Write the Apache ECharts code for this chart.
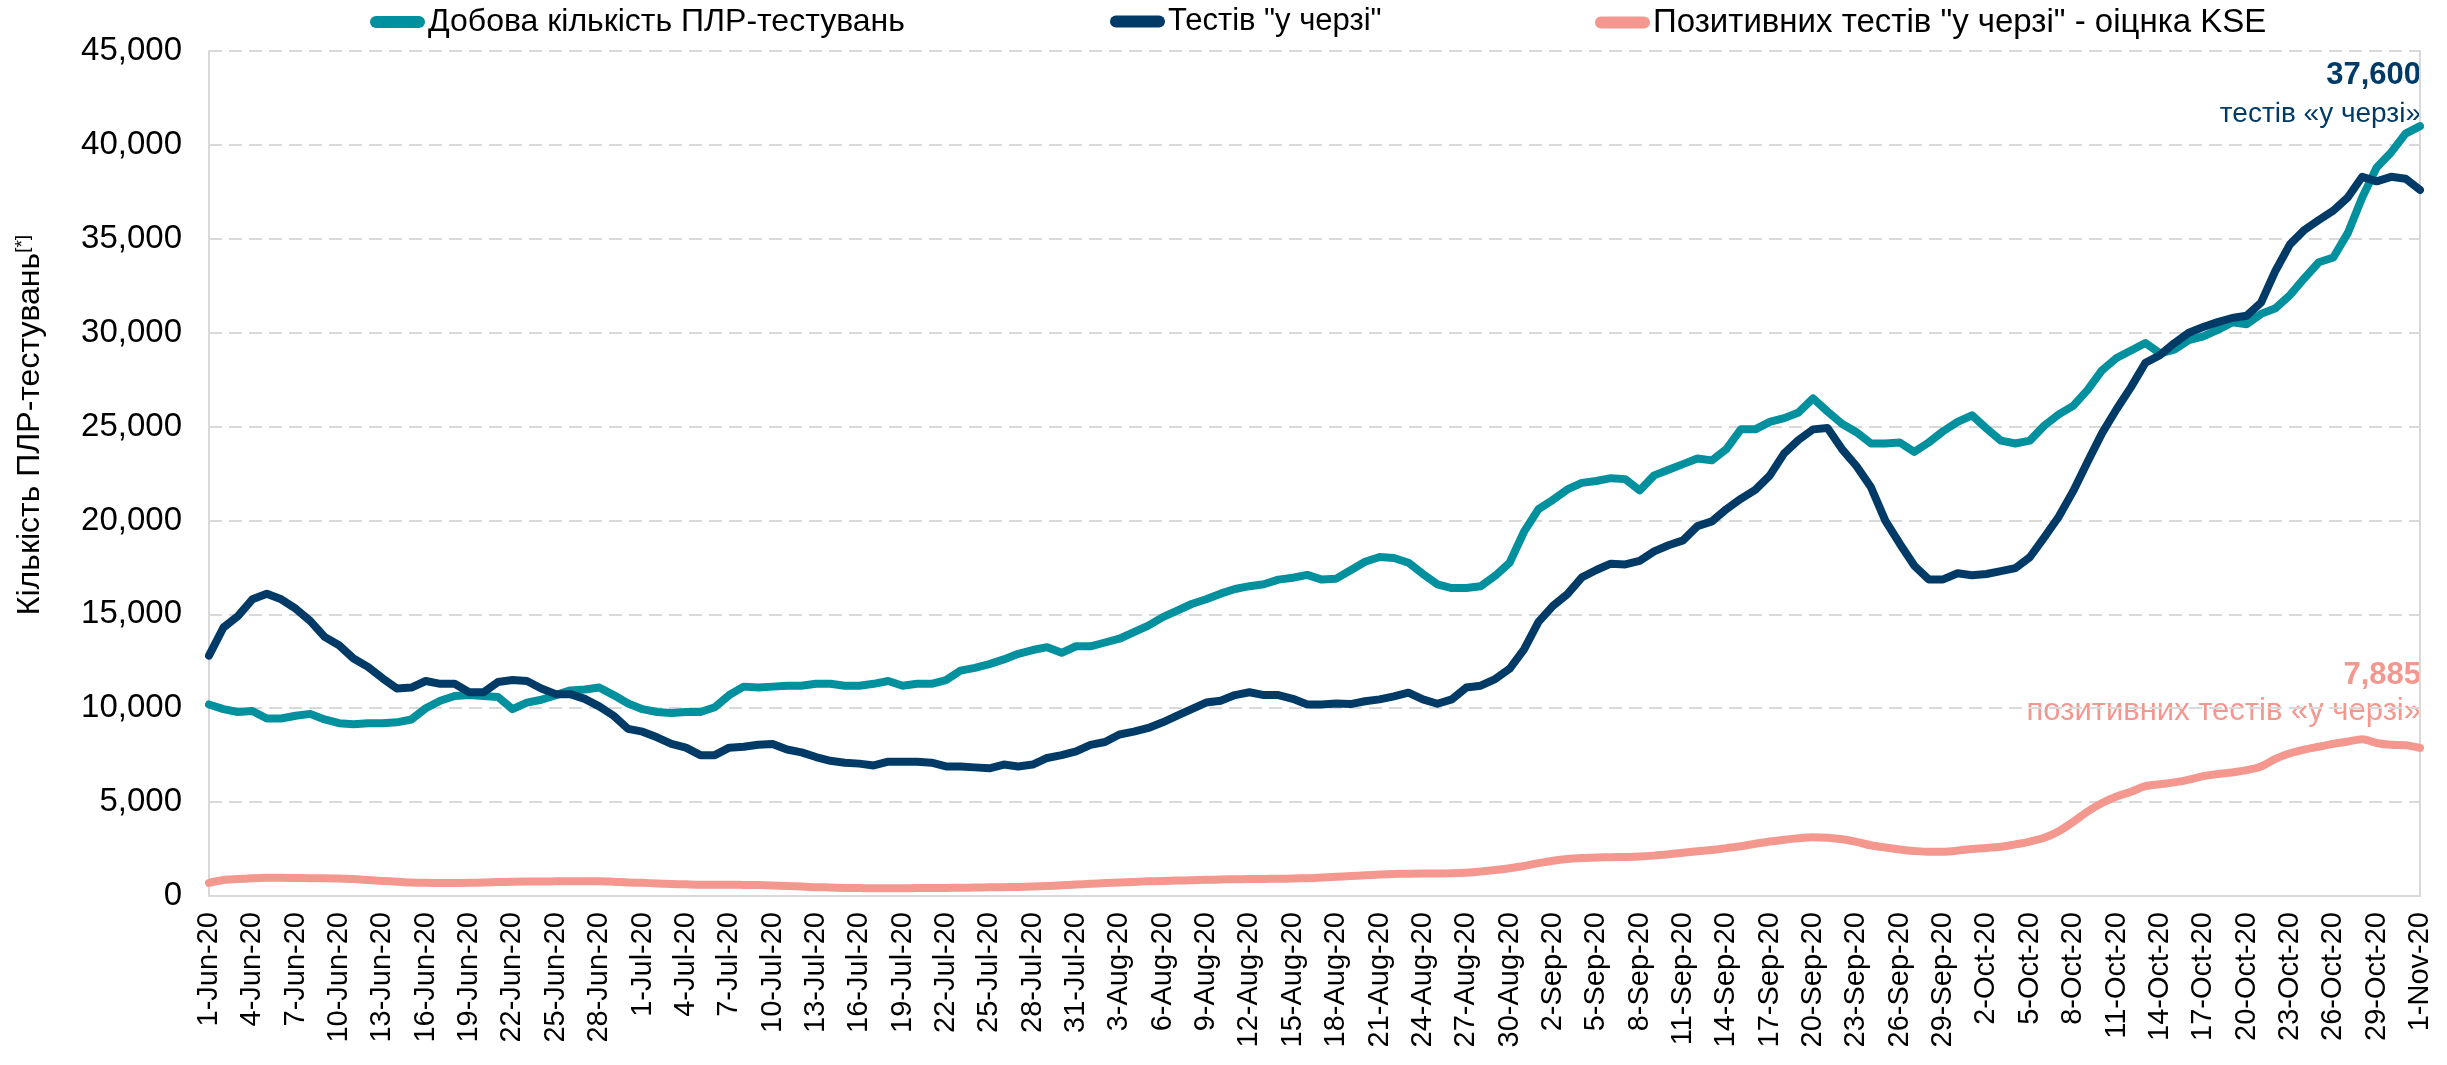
<!DOCTYPE html>
<html>
<head>
<meta charset="utf-8">
<script src="https://cdn.jsdelivr.net/npm/echarts@6/dist/echarts.min.js"></script>
<style>
html,body{margin:0;padding:0;background:#fff;}
#chart{width:2447px;height:1065px;}
</style>
</head>
<body>
<div id="chart"></div>
<script>
var dates = [
'1-Jun-20','2-Jun-20','3-Jun-20','4-Jun-20','5-Jun-20','6-Jun-20','7-Jun-20','8-Jun-20','9-Jun-20','10-Jun-20',
'11-Jun-20','12-Jun-20','13-Jun-20','14-Jun-20','15-Jun-20','16-Jun-20','17-Jun-20','18-Jun-20','19-Jun-20','20-Jun-20',
'21-Jun-20','22-Jun-20','23-Jun-20','24-Jun-20','25-Jun-20','26-Jun-20','27-Jun-20','28-Jun-20','29-Jun-20','30-Jun-20',
'1-Jul-20','2-Jul-20','3-Jul-20','4-Jul-20','5-Jul-20','6-Jul-20','7-Jul-20','8-Jul-20','9-Jul-20','10-Jul-20',
'11-Jul-20','12-Jul-20','13-Jul-20','14-Jul-20','15-Jul-20','16-Jul-20','17-Jul-20','18-Jul-20','19-Jul-20','20-Jul-20',
'21-Jul-20','22-Jul-20','23-Jul-20','24-Jul-20','25-Jul-20','26-Jul-20','27-Jul-20','28-Jul-20','29-Jul-20','30-Jul-20',
'31-Jul-20','1-Aug-20','2-Aug-20','3-Aug-20','4-Aug-20','5-Aug-20','6-Aug-20','7-Aug-20','8-Aug-20','9-Aug-20',
'10-Aug-20','11-Aug-20','12-Aug-20','13-Aug-20','14-Aug-20','15-Aug-20','16-Aug-20','17-Aug-20','18-Aug-20','19-Aug-20',
'20-Aug-20','21-Aug-20','22-Aug-20','23-Aug-20','24-Aug-20','25-Aug-20','26-Aug-20','27-Aug-20','28-Aug-20','29-Aug-20',
'30-Aug-20','31-Aug-20','1-Sep-20','2-Sep-20','3-Sep-20','4-Sep-20','5-Sep-20','6-Sep-20','7-Sep-20','8-Sep-20',
'9-Sep-20','10-Sep-20','11-Sep-20','12-Sep-20','13-Sep-20','14-Sep-20','15-Sep-20','16-Sep-20','17-Sep-20','18-Sep-20',
'19-Sep-20','20-Sep-20','21-Sep-20','22-Sep-20','23-Sep-20','24-Sep-20','25-Sep-20','26-Sep-20','27-Sep-20','28-Sep-20',
'29-Sep-20','30-Sep-20','1-Oct-20','2-Oct-20','3-Oct-20','4-Oct-20','5-Oct-20','6-Oct-20','7-Oct-20','8-Oct-20',
'9-Oct-20','10-Oct-20','11-Oct-20','12-Oct-20','13-Oct-20','14-Oct-20','15-Oct-20','16-Oct-20','17-Oct-20','18-Oct-20',
'19-Oct-20','20-Oct-20','21-Oct-20','22-Oct-20','23-Oct-20','24-Oct-20','25-Oct-20','26-Oct-20','27-Oct-20','28-Oct-20',
'29-Oct-20','30-Oct-20','31-Oct-20','1-Nov-20'
];

var dailyTests = [
10200,9950,9800,9850,9450,9450,9600,9700,9400,9200,
9150,9200,9200,9250,9400,10000,10400,10650,10700,10650,
10600,9950,10300,10450,10700,10950,11000,11100,10700,10250,
9950,9800,9750,9800,9800,10050,10700,11150,11100,11150,
11200,11200,11300,11300,11200,11200,11300,11450,11200,11300,
11300,11500,12000,12150,12350,12600,12900,13100,13250,12950,
13300,13300,13500,13700,14050,14400,14850,15200,15550,15800,
16100,16350,16500,16600,16850,16950,17100,16850,16900,17350,
17800,18050,18000,17750,17150,16600,16400,16400,16500,17050,
17750,19400,20600,21100,21650,22000,22100,22250,22200,21600,
22400,22700,23000,23300,23200,23800,24850,24850,25250,25450,
25750,26500,25800,25150,24700,24100,24100,24150,23650,24150,
24750,25250,25600,24900,24250,24100,24250,25050,25650,26100,
26950,28000,28650,29050,29450,28900,29100,29600,29800,30150,
30550,30450,31000,31300,32000,32900,33750,34000,35300,37200,
38800,39600,40600,41000
];

var queueTests = [
12800,14300,14900,15800,16100,15800,15300,14650,13800,13350,
12650,12200,11600,11050,11100,11450,11300,11300,10850,10850,
11400,11500,11450,11050,10750,10750,10500,10100,9600,8900,
8750,8450,8100,7900,7500,7500,7900,7950,8050,8100,
7800,7650,7400,7200,7100,7050,6950,7150,7150,7150,
7100,6900,6900,6850,6800,7000,6900,7000,7350,7500,
7700,8050,8200,8600,8750,8950,9250,9600,9950,10300,
10400,10700,10850,10700,10700,10500,10200,10200,10250,10220,
10370,10470,10630,10830,10470,10240,10470,11100,11200,11550,
12100,13130,14600,15450,16080,16970,17360,17700,17660,17850,
18350,18680,18940,19700,19950,20600,21150,21630,22390,23570,
24290,24850,24920,23800,22900,21780,19990,18760,17600,16860,
16860,17190,17080,17150,17300,17460,18040,19100,20200,21560,
23130,24650,25920,27100,28400,28800,29440,30000,30300,30560,
30780,30900,31600,33300,34700,35470,36000,36500,37200,38300,
38060,38300,38200,37600
];

var positiveQueue = [
700,850,900,950,970,970,960,950,950,930,
900,850,800,760,720,700,690,690,700,720,
740,760,770,770,780,790,790,790,760,720,
700,670,640,620,600,600,600,590,580,560,
530,500,470,450,430,420,410,410,410,420,
420,430,440,450,460,470,480,500,530,570,
610,650,690,720,750,780,800,820,840,860,
880,890,900,910,920,930,950,980,1020,1060,
1100,1140,1170,1190,1200,1200,1210,1240,1300,1380,
1480,1600,1750,1880,1970,2020,2050,2070,2080,2100,
2150,2220,2300,2380,2450,2550,2650,2780,2900,3000,
3080,3130,3100,3020,2880,2700,2580,2480,2400,2350,
2360,2420,2500,2560,2620,2750,2900,3100,3450,3950,
4500,4950,5300,5550,5850,5950,6050,6200,6380,6500,
6580,6700,6900,7300,7600,7800,7950,8100,8220,8350,
8150,8050,8030,7885
];

var seriesNames = ['Добова кількість ПЛР-тестувань', 'Тестів "у черзі"', 'Позитивних тестів "у черзі" - оіцнка KSE'];
var yTicks = { min: 0, max: 45000, interval: 5000 };
var queueLabelValue = '37,600';
var positiveLabelValue = '7,885';

var TEAL = '#00909E';
var NAVY = '#003B68';
var PINK = '#F4978E';
var FONT = '"Liberation Sans", Arial, sans-serif';
var ICON = 'path://M6,0 L49,0 A6,6 0 0 1 49,12 L6,12 A6,6 0 0 1 6,0 Z';

function legendAt(name, left, size) {
  return {
    data: [name], left: left, top: 6, itemWidth: 55, itemHeight: 12, icon: ICON,
    itemGap: 0, padding: 0,
    textStyle: { fontFamily: FONT, fontSize: size, color: '#000', padding: [0, 0, 0, -2] }
  };
}

var chart = echarts.init(document.getElementById('chart'), null, { renderer: 'canvas' });
chart.setOption({
  animation: false,
  backgroundColor: '#fff',
  textStyle: { fontFamily: FONT },
  legend: [legendAt(seriesNames[0], 370, 32), legendAt(seriesNames[1], 1110, 31), legendAt(seriesNames[2], 1595, 33)],
  grid: { left: 209, right: 27, top: 51, bottom: 169, containLabel: false },
  xAxis: {
    type: 'category', data: dates, boundaryGap: false,
    axisLine: { show: true, lineStyle: { color: '#d9d9d9', width: 2 } },
    axisTick: { show: false },
    axisLabel: { interval: 2, rotate: 90, margin: 16, fontSize: 29, color: '#000', fontFamily: FONT },
    splitLine: { show: false }
  },
  yAxis: [{
    type: 'value', min: yTicks.min, max: yTicks.max, interval: yTicks.interval,
    axisLine: { show: true, lineStyle: { color: '#d9d9d9', width: 2 } },
    axisTick: { show: false },
    axisLabel: { margin: 27, fontSize: 33, color: '#000', fontFamily: FONT,
      formatter: function (v) { return v.toLocaleString('en-US'); } },
    splitLine: { show: true, lineStyle: { color: '#d9d9d9', width: 2, type: [13, 7] } }
  }, {
    type: 'value', position: 'right', min: yTicks.min, max: yTicks.max, interval: yTicks.interval,
    axisLine: { show: true, lineStyle: { color: '#d9d9d9', width: 2 } },
    axisTick: { show: false }, axisLabel: { show: false }, splitLine: { show: false }
  }],
  series: [
    { name: seriesNames[0], type: 'line', data: dailyTests, showSymbol: false, symbol: 'none',
      color: TEAL, lineStyle: { color: TEAL, width: 8, cap: 'round', join: 'round' }, z: 2 },
    { name: seriesNames[1], type: 'line', data: queueTests, showSymbol: false, symbol: 'none',
      color: NAVY, lineStyle: { color: NAVY, width: 8, cap: 'round', join: 'round' }, z: 3 },
    { name: seriesNames[2], type: 'line', data: positiveQueue, showSymbol: false, symbol: 'none', smooth: 0.3,
      color: PINK, lineStyle: { color: PINK, width: 8, cap: 'round', join: 'round' }, z: 2 }
  ],
  graphic: [
    { type: 'text', right: 26, top: 60, style: { text: queueLabelValue, fill: NAVY, font: 'bold 31px ' + FONT, textAlign: 'right' } },
    { type: 'text', right: 26, top: 100, style: { text: 'тестів «у черзі»', fill: NAVY, font: '28px ' + FONT, textAlign: 'right' } },
    { type: 'text', right: 26, top: 660, style: { text: positiveLabelValue, fill: PINK, font: 'bold 31px ' + FONT, textAlign: 'right' } },
    { type: 'text', right: 26, top: 696, style: { text: 'позитивних тестів «у черзі»', fill: PINK, font: '31px ' + FONT, textAlign: 'right' } },
    { type: 'text', x: 30, y: 425, rotation: Math.PI / 2,
      style: { text: '{a|Кількість ПЛР-тестувань}{b|[*]}', align: 'center', verticalAlign: 'middle',
        rich: { a: { fontSize: 32, fontFamily: FONT, fill: '#000' },
                b: { fontSize: 19, fontFamily: FONT, fill: '#000', verticalAlign: 'top', padding: [0, 0, 14, 0] } } } }
  ]
});
</script>
</body>
</html>
